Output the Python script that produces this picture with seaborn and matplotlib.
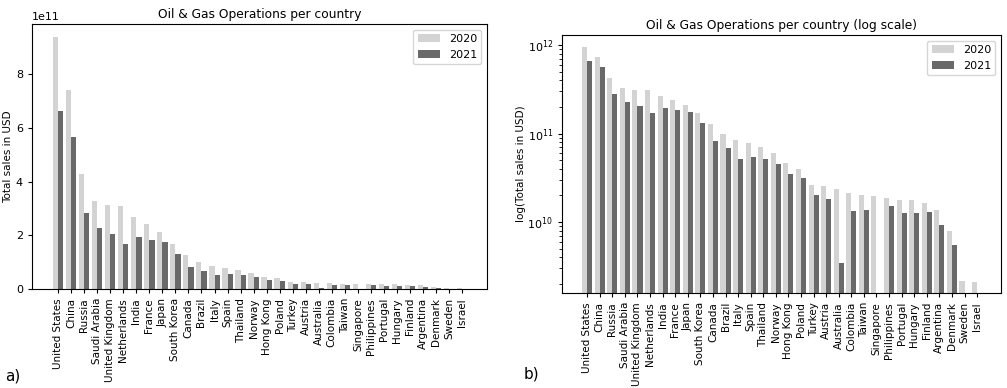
import numpy as np
import pandas as pd
import matplotlib
matplotlib.use("Agg")
import matplotlib.pyplot as plt
import seaborn as sns

# Oil & Gas operations: total sales per country (USD)
countries = [
    "United States", "China", "Russia", "Saudi Arabia", "United Kingdom",
    "Netherlands", "India", "France", "Japan", "South Korea", "Canada",
    "Brazil", "Italy", "Spain", "Thailand", "Norway", "Hong Kong", "Poland",
    "Turkey", "Austria", "Australia", "Colombia", "Taiwan", "Singapore",
    "Philippines", "Portugal", "Hungary", "Finland", "Argentina", "Denmark",
    "Sweden", "Israel",
]
sales_2020 = [
    9.40e11, 7.40e11, 4.30e11, 3.28e11, 3.12e11,
    3.08e11, 2.68e11, 2.42e11, 2.12e11, 1.69e11, 1.27e11,
    1.00e11, 8.4e10, 7.8e10, 7.1e10, 6.0e10, 4.6e10, 4.0e10,
    2.65e10, 2.56e10, 2.35e10, 2.15e10, 2.04e10, 1.97e10,
    1.88e10, 1.79e10, 1.76e10, 1.65e10, 1.36e10, 7.9e9,
    2.14e9, 2.1e9,
]
sales_2021 = [
    6.63e11, 5.66e11, 2.83e11, 2.27e11, 2.06e11,
    1.69e11, 1.94e11, 1.83e11, 1.74e11, 1.30e11, 8.3e10,
    6.8e10, 5.2e10, 5.5e10, 5.1e10, 4.5e10, 3.5e10, 3.15e10,
    2.0e10, 1.84e10, 3.47e9, 1.33e10, 1.38e10, np.nan,
    1.52e10, 1.26e10, 1.26e10, 1.3e10, 9.2e9, 5.5e9,
    np.nan, np.nan,
]
years = ["2020", "2021"]
colors = ["#d3d3d3", "#696969"]

df = pd.DataFrame({
    "country": countries * 2,
    "sales": sales_2020 + sales_2021,
    "year": [years[0]] * len(countries) + [years[1]] * len(countries),
})

fig = plt.figure(figsize=(10.07, 3.88), dpi=100)
ax1 = fig.add_axes([32 / 1007, 1 - 289 / 388, 455 / 1007, 265 / 388])
ax2 = fig.add_axes([562 / 1007, 1 - 293 / 388, 439 / 1007, 258 / 388])


def draw(ax, title, ylabel, label_x, log=False):
    sns.barplot(data=df, x="country", y="sales", hue="year", hue_order=years,
                palette=colors, saturation=1, width=0.8, ax=ax, errorbar=None)
    if log:
        ax.set_yscale("log")
        ax.set_ylim(1.58e9, 1.3e12)
    else:
        ax.set_ylim(0, 9.87e11)
    ax.set_xlim(-2.0, 32.9)
    ax.set_title(title, fontsize=8.8, pad=4)
    ax.set_xlabel("")
    ax.set_ylabel(ylabel, fontsize=7.5)
    ax.yaxis.set_label_coords(label_x, 0.5)
    ax.tick_params(axis="x", labelrotation=90, labelsize=7.5, length=3)
    ax.tick_params(axis="y", labelsize=8, length=3)
    ax.yaxis.get_offset_text().set_fontsize(8)
    ax.legend(loc="upper right", fontsize=8)
    for s in ax.spines.values():
        s.set_linewidth(0.8)


draw(ax1, "Oil & Gas Operations per country", "Total sales in USD", -0.042)
draw(ax2, "Oil & Gas Operations per country (log scale)", "log(Total sales in USD)",
     -0.082, log=True)

fig.text(5 / 1007, 1 - 376 / 388, "a)", fontsize=11, va="center")
fig.text(524 / 1007, 1 - 374 / 388, "b)", fontsize=11, va="center")

fig.savefig("out.png", dpi=100)
